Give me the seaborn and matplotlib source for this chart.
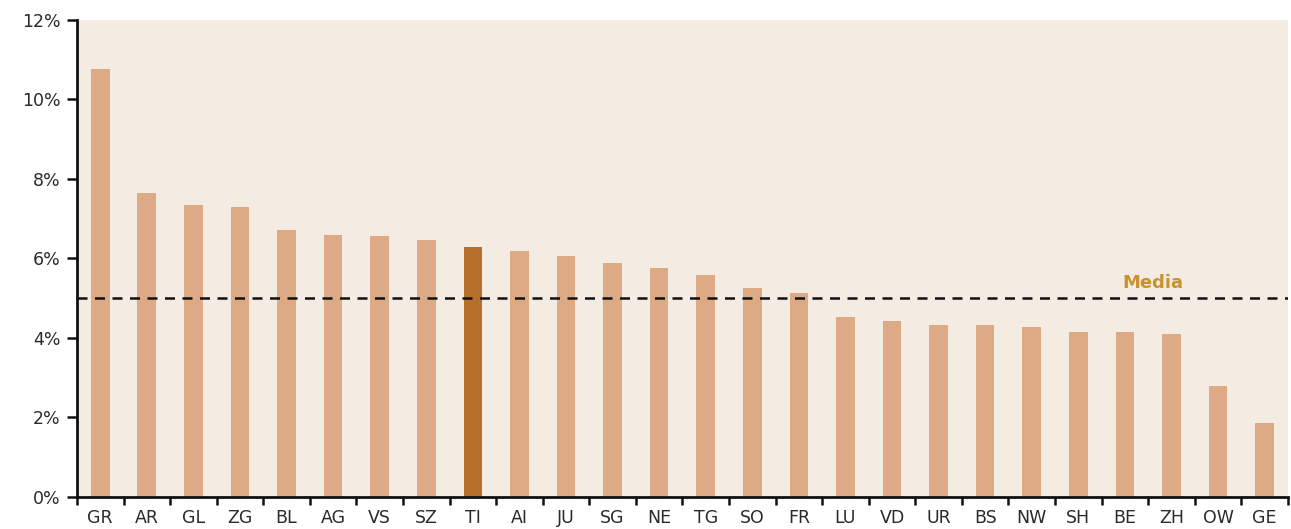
import matplotlib
matplotlib.use("Agg")
import matplotlib.pyplot as plt
import seaborn as sns
import pandas as pd
from matplotlib.ticker import FixedLocator

cantons = ["GR", "AR", "GL", "ZG", "BL", "AG", "VS", "SZ", "TI", "AI", "JU", "SG", "NE",
           "TG", "SO", "FR", "LU", "VD", "UR", "BS", "NW", "SH", "BE", "ZH", "OW", "GE"]
values = [10.77, 7.65, 7.35, 7.30, 6.72, 6.60, 6.57, 6.47, 6.28, 6.19, 6.06, 5.89, 5.75,
          5.58, 5.27, 5.12, 4.52, 4.44, 4.32, 4.32, 4.27, 4.15, 4.15, 4.10, 2.79, 1.87]
highlight = "TI"
media = 5.0
y_ticks = [0, 2, 4, 6, 8, 10, 12]

bar_color = "#dcaa85"
highlight_color = "#b5702b"
panel_bg = "#f4ece2"

df = pd.DataFrame({"canton": cantons, "value": values})
palette = {c: (highlight_color if c == highlight else bar_color) for c in cantons}

sns.set_style("ticks")
plt.rcParams["font.family"] = ["DejaVu Sans"]

fig = plt.figure(figsize=(12.91, 5.29), dpi=100)
ax = fig.add_axes([0.0596, 0.0605, 0.938, 0.9017])
ax.set_facecolor(panel_bg)

sns.barplot(data=df, x="canton", y="value", hue="canton", palette=palette,
            order=cantons, hue_order=cantons, legend=False, width=0.4,
            saturation=1, linewidth=0, ax=ax)

ax.axhline(media, color="#111111", linestyle=(0, (4, 3)), linewidth=1.8, zorder=3)
ax.text(22.6, media + 0.38, "Media", color="#c8922e", fontsize=13,
        fontweight="bold", ha="center", va="center")

ax.set_xlim(-0.5, len(cantons) - 0.5)
ax.set_ylim(0, 12)
ax.set_yticks(y_ticks)
ax.set_yticklabels([f"{t}%" for t in y_ticks], fontsize=12.5, color="#2a2a2a")
ax.tick_params(axis="y", direction="out", length=7, width=1.8, color="#111111", pad=5)

ax.set_xticks(range(len(cantons)))
ax.set_xticklabels(cantons, fontsize=12.5, color="#2a2a2a")
ax.tick_params(axis="x", which="major", length=0, pad=9)
ax.xaxis.set_minor_locator(FixedLocator([i - 0.5 for i in range(len(cantons) + 1)]))
ax.tick_params(axis="x", which="minor", direction="out", length=6, width=1.8, color="#111111")

ax.set_xlabel("")
ax.set_ylabel("")
for side in ("top", "right"):
    ax.spines[side].set_visible(False)
for side in ("left", "bottom"):
    ax.spines[side].set_linewidth(2)
    ax.spines[side].set_color("#111111")

fig.savefig("out.png", dpi=100, facecolor="white")
